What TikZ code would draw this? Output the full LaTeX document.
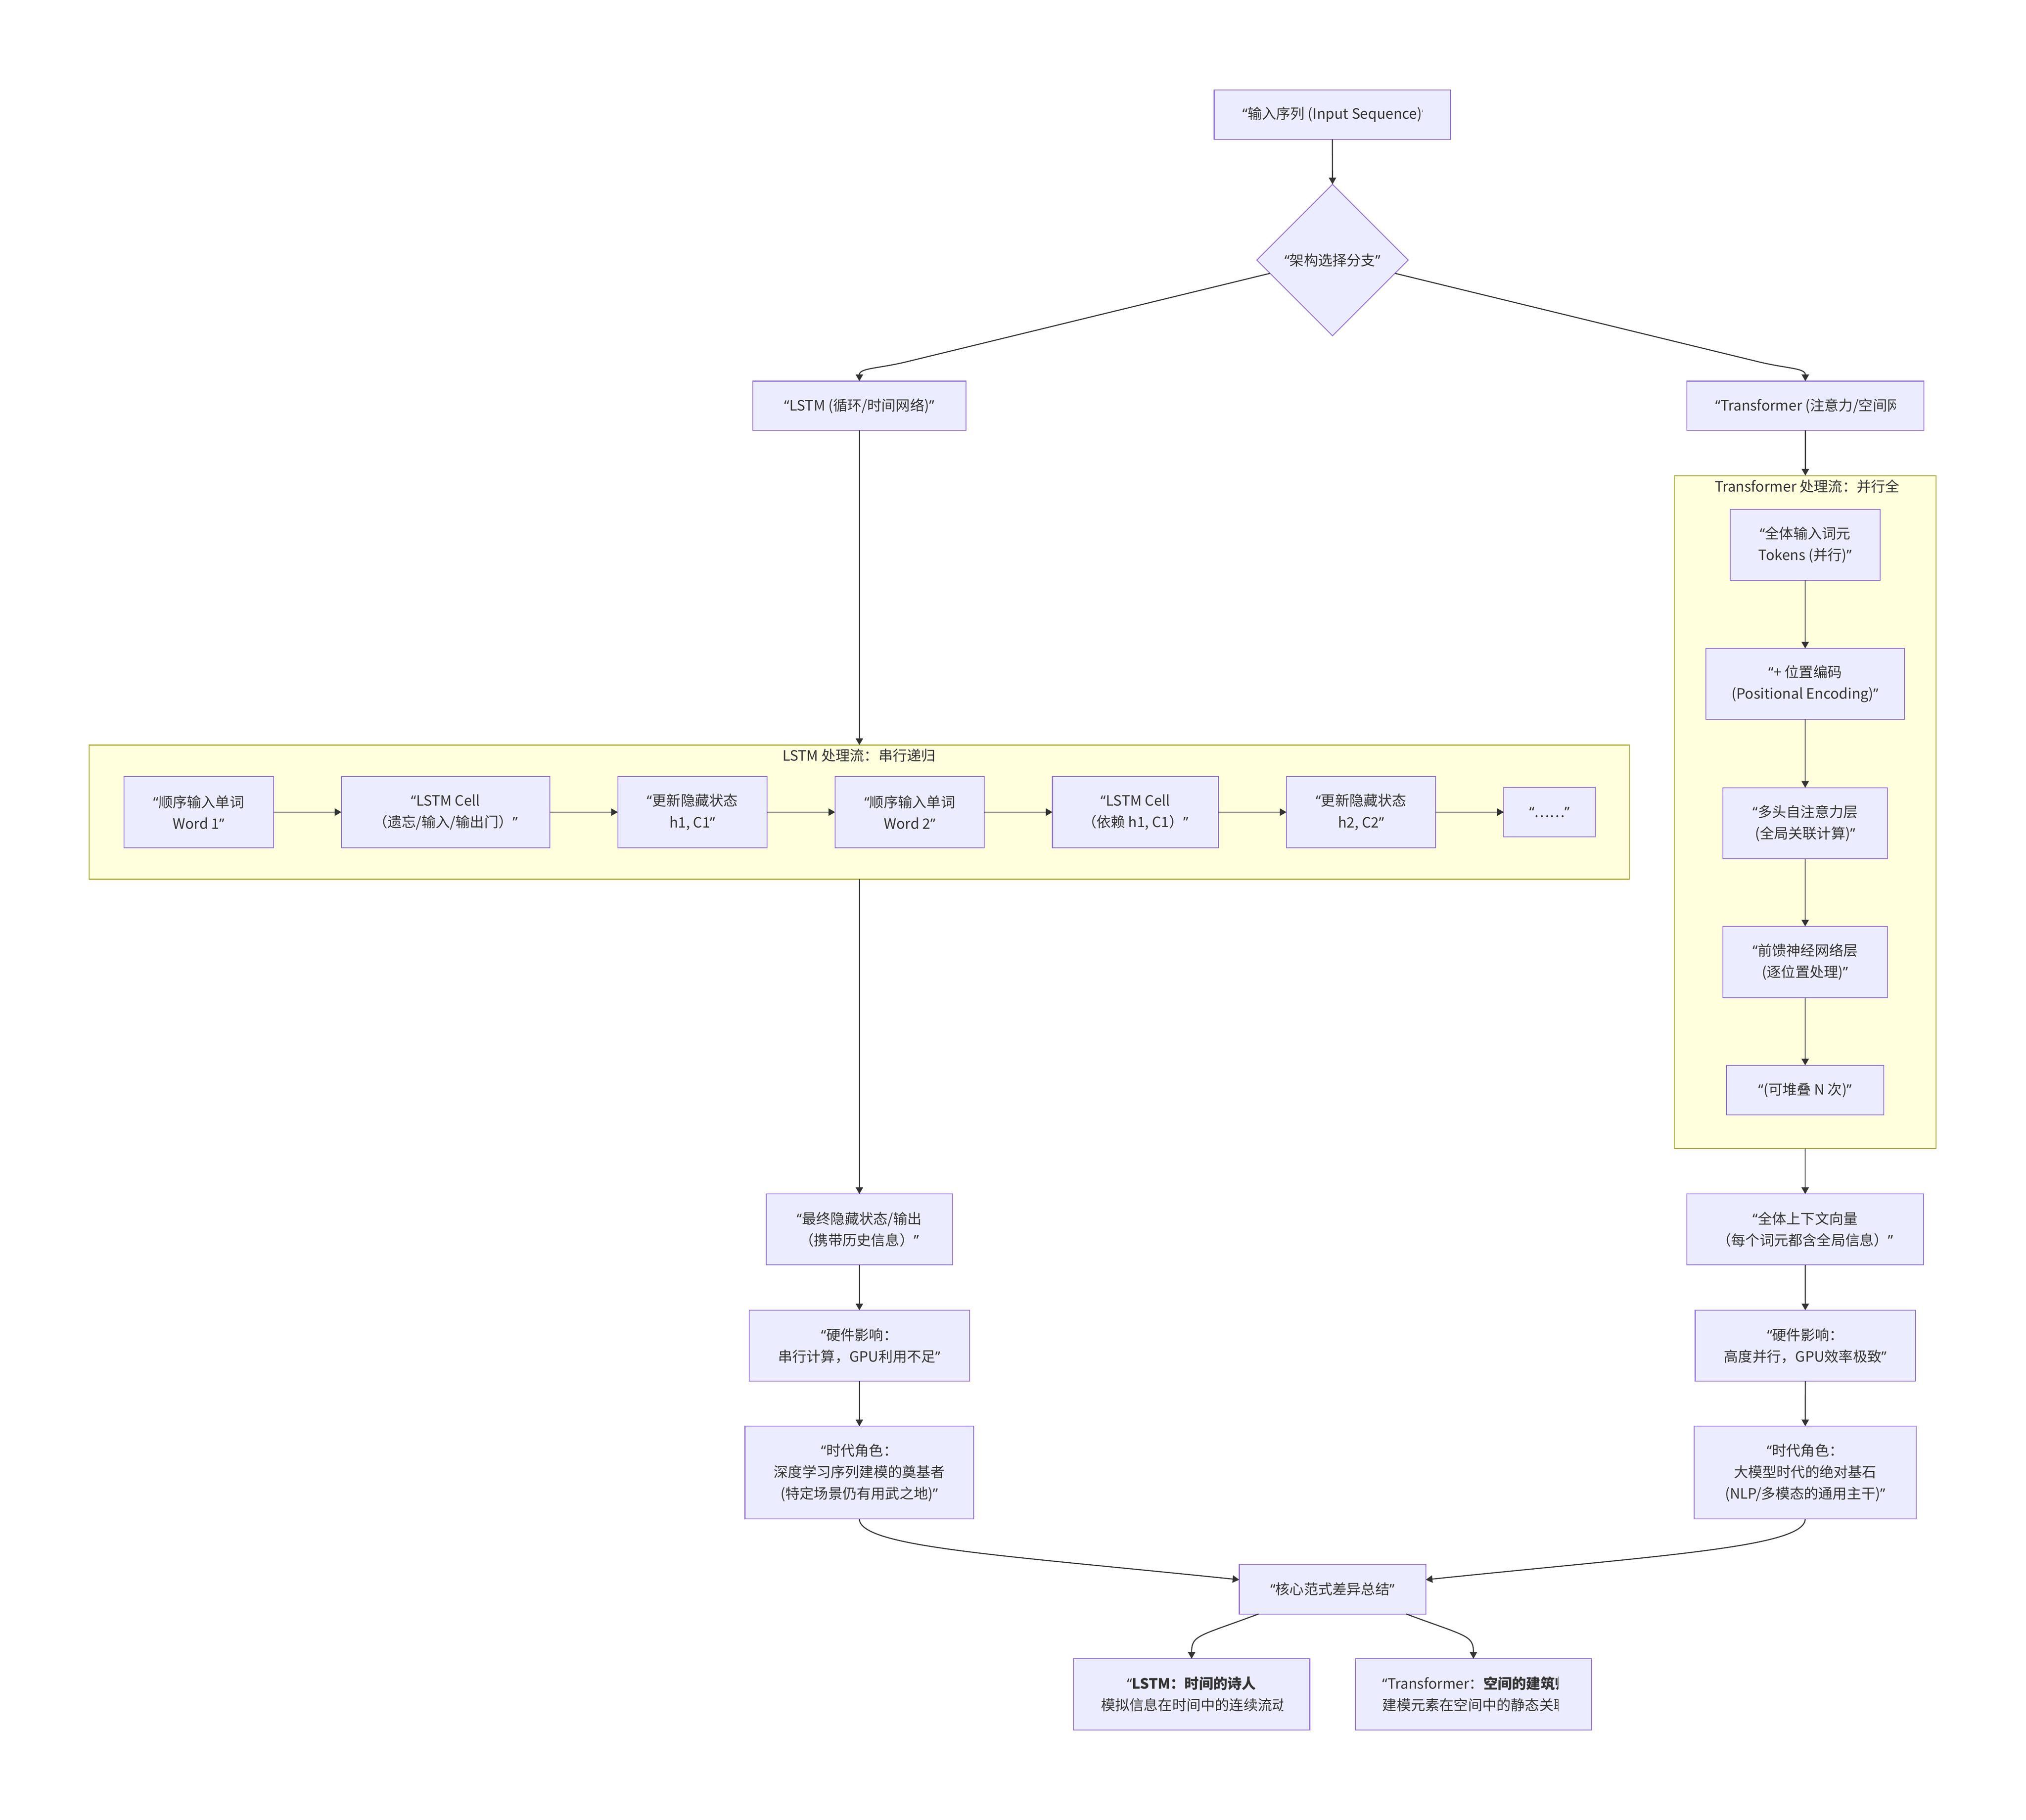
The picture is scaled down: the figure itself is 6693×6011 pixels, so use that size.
\documentclass[tikz,border=0pt]{standalone}
\usepackage{fontspec}
\setmainfont{Noto Sans CJK SC}
\newfontfamily\qf{Noto Sans}
\newcommand{\oq}{{\qf “}}
\newcommand{\cq}{{\qf ”}}
\usetikzlibrary{arrows.meta,shapes.geometric}
\definecolor{nfill}{HTML}{ECECFF}
\definecolor{nline}{HTML}{9370DB}
\definecolor{sfill}{HTML}{FFFFDE}
\definecolor{sline}{HTML}{AAAA33}
\definecolor{ink}{HTML}{333333}
\newcommand{\fsz}{\fontsize{13.4pt}{20.2pt}\selectfont}
\tikzset{
 box/.style={draw=nline, fill=nfill, line width=0.8pt, rectangle, inner sep=0pt, outer sep=0pt, align=center, font=\fsz, text=ink},
 sub/.style={draw=sline, fill=sfill, line width=0.8pt, rectangle, inner sep=0pt, outer sep=0pt},
 txt/.style={inner sep=0pt, outer sep=0pt, font=\fsz, text=ink, align=left},
 edge/.style={draw=ink, line width=1pt, -{Triangle[length=0.22cm,width=0.24cm]}},
}
\newcommand{\bx}[6]{\node[box, minimum width={(#4-#2)*0.01cm}, minimum height={(#5-#3)*0.01cm}] (#1) at ({(#2+#4)/2},{(#3+#5)/2}) {#6};}
\newcommand{\sg}[5]{\node[sub, minimum width={(#4-#2)*0.01cm}, minimum height={(#5-#3)*0.01cm}] (#1) at ({(#2+#4)/2},{(#3+#5)/2}) {};}
\begin{document}
\begin{tikzpicture}[x=0.01cm,y=-0.01cm]
\fill[white] (0,0) rectangle (6693,6011);
\useasboundingbox (0,0) rectangle (6693,6011);

% subgraphs
\sg{lsub}{295}{2461}{5382}{2904}
\sg{tsub}{5531}{1571}{6396}{3793}
\node[txt] (lsubt) at (2838,2495) {LSTM 处理流：串行递归};
\node[txt, anchor=west] (tsubt) at (5665,1606) {Transformer 处理流：并行全};

% top
\bx{inp}{4011}{297}{4792}{460}{}
\begin{scope}
\clip (4101,297) rectangle (4699,460);
\node[txt, anchor=west] (inpt) at (4105,378.5) {\oq 输入序列 (Input Sequence)\cq};
\end{scope}
\node[box, diamond, minimum width=5cm, minimum height=5cm] (dia) at (4402,859) {\oq 架构选择分支\cq};

\bx{lstm}{2487}{1259}{3191}{1422}{\oq LSTM (循环/时间网络)\cq}
\bx{trans}{5573}{1259}{6355}{1422}{}
\begin{scope}
\clip (5663,1259) rectangle (6263,1422);
\node[txt, anchor=west] (transt) at (5667,1340.5) {\oq Transformer (注意力/空间网络)\cq};
\end{scope}

% transformer column
\bx{tok}{5716}{1683}{6211}{1917}{\oq 全体输入词元\\Tokens (并行)\cq}
\bx{pos}{5636}{2142}{6291}{2376}{\oq + 位置编码\\(Positional Encoding)\cq}
\bx{mha}{5692}{2602}{6235}{2836}{\oq 多头自注意力层\\(全局关联计算)\cq}
\bx{ffn}{5692}{3060}{6235}{3295}{\oq 前馈神经网络层\\(逐位置处理)\cq}
\bx{stk}{5704}{3519}{6223}{3682}{\oq (可堆叠 N 次)\cq}
\bx{ctx}{5573}{3944}{6354}{4178}{\oq 全体上下文向量\\（每个词元都含全局信息）\cq}
\bx{hwT}{5600}{4328}{6328}{4562}{\oq 硬件影响：\\高度并行，GPU效率极致\cq}
\bx{eraT}{5597}{4711}{6330}{5017}{\oq 时代角色：\\大模型时代的绝对基石\\(NLP/多模态的通用主干)\cq}

% lstm row
\bx{w1}{410}{2565}{903}{2800}{\oq 顺序输入单词\\Word 1\cq}
\bx{c1}{1128}{2565}{1816}{2800}{\oq LSTM Cell\\（遗忘/输入/输出门）\cq}
\bx{h1}{2041}{2565}{2534}{2800}{\oq 更新隐藏状态\\h1, C1\cq}
\bx{w2}{2759}{2565}{3252}{2800}{\oq 顺序输入单词\\Word 2\cq}
\bx{c2}{3477}{2565}{4025}{2800}{\oq LSTM Cell\\（依赖 h1, C1）\cq}
\bx{h2}{4250}{2565}{4743}{2800}{\oq 更新隐藏状态\\h2, C2\cq}
\bx{dots}{4968}{2601}{5270}{2764}{\oq ……\cq}

% lstm column
\bx{fin}{2531}{3944}{3147}{4178}{\oq 最终隐藏状态/输出\\（携带历史信息）\cq}
\bx{hwL}{2475}{4328}{3203}{4562}{\oq 硬件影响：\\串行计算，GPU利用不足\cq}
\bx{eraL}{2461}{4711}{3217}{5017}{\oq 时代角色：\\深度学习序列建模的奠基者\\(特定场景仍有用武之地)\cq}

% bottom
\bx{sum}{4094}{5167}{4710}{5331}{\oq 核心范式差异总结\cq}
\bx{poet}{3546}{5479}{4327}{5715}{}
\bx{arch}{4477}{5479}{5258}{5715}{}
\node[txt] (poet1) at (3936,5561) {\bfseries \oq LSTM：时间的诗人};
\begin{scope}
\clip (3637,5479) rectangle (4239,5715);
\node[txt, anchor=west] (poet2) at (3637,5632) {模拟信息在时间中的连续流动};
\end{scope}
\begin{scope}
\clip (4563,5479) rectangle (5148,5715);
\node[txt, anchor=west] (arch1) at (4567,5561) {\oq Transformer：\textbf{空间的建筑师}};
\node[txt, anchor=west] (arch2) at (4567,5632) {建模元素在空间中的静态关联};
\end{scope}

% edges
\draw[edge] (inp.south) -- (dia.north);
\draw[edge] (dia.192) -- ++(-1196,291) .. controls +(-97,24) and +(0,-44) .. (lstm.north);
\draw[edge] (dia.-12) -- ++(1196,291) .. controls +(97,24) and +(0,-44) .. (trans.north);
\draw[edge] (lstm.south) -- (lstm.south |- lsub.north);
\draw[edge] (fin.north |- lsub.south) -- (fin.north);
\draw[edge] (trans.south) -- (trans.south |- tsub.north);
\draw[edge] (ctx.north |- tsub.south) -- (ctx.north);
\draw[edge] (tok) -- (pos);
\draw[edge] (pos) -- (mha);
\draw[edge] (mha) -- (ffn);
\draw[edge] (ffn) -- (stk);
\draw[edge] (w1) -- (c1);
\draw[edge] (c1) -- (h1);
\draw[edge] (h1) -- (w2);
\draw[edge] (w2) -- (c2);
\draw[edge] (c2) -- (h2);
\draw[edge] (h2) -- (dots);
\draw[edge] (fin) -- (hwL);
\draw[edge] (hwL) -- (eraL);
\draw[edge] (ctx) -- (hwT);
\draw[edge] (hwT) -- (eraT);
\draw[edge] (eraL.south) .. controls +(0,93) and +(-791,-82) .. ([yshift=0.31cm]sum.west);
\draw[edge] (eraT.south) .. controls +(0,93) and +(791,-82) .. ([yshift=0.31cm]sum.east);
\draw[edge] ([xshift=-2.44cm]sum.south) .. controls +(-198,74) and +(0,-79) .. (poet.north);
\draw[edge] ([xshift=2.43cm]sum.south) .. controls +(198,74) and +(0,-79) .. (arch.north);
\end{tikzpicture}
\end{document}
